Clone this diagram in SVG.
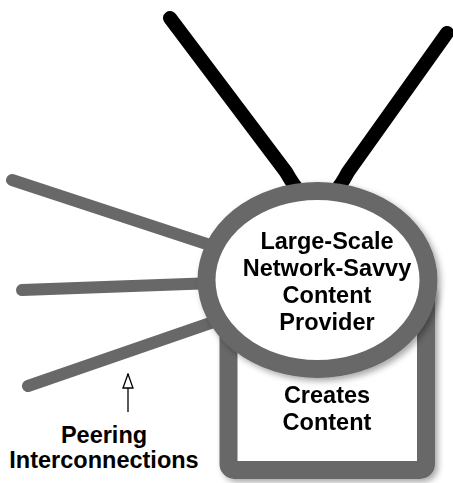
<svg xmlns="http://www.w3.org/2000/svg" width="453" height="483" viewBox="0 0 453 483">
<defs>
<style>
.gray{stroke:#686868;fill:none;stroke-linecap:round}
.node{fill:#fff;stroke:#686868;stroke-width:18}
.lbl{font-family:"Liberation Sans",Arial,sans-serif;font-weight:bold;font-size:23.5px;fill:#000;text-anchor:middle}
</style>
<filter id="sh" x="-10%" y="-10%" width="130%" height="130%">
<feDropShadow dx="3" dy="3" stdDeviation="3" flood-color="#000" flood-opacity="0.35"/>
</filter>
<marker id="open" viewBox="0 0 16 12" refX="15" refY="6" markerWidth="16" markerHeight="12" markerUnits="userSpaceOnUse" orient="auto">
<path d="M1,1 L15,6 L1,11 Z" fill="#fff" stroke="#000" stroke-width="1.3"/>
</marker>
</defs>
<g id="connectors">
<path d="M170,18 L286,172 Q318,230 348,172 L447,33" fill="none" stroke="#000" stroke-width="14" stroke-linecap="round" stroke-linejoin="round"/>
<line class="gray" x1="12" y1="180" x2="225" y2="250" stroke-width="12"/>
<line class="gray" x1="22" y1="290" x2="215" y2="283" stroke-width="12"/>
<line class="gray" x1="28" y1="386" x2="225" y2="318" stroke-width="12"/>
<line x1="128" y1="412" x2="128" y2="374" stroke="#000" stroke-width="1.3" marker-end="url(#open)"/>
</g>
<g id="creates" filter="url(#sh)">
<rect class="node" x="228.5" y="290" width="197.5" height="180" rx="6"/>
<text class="lbl" x="327" y="403">Creates</text>
<text class="lbl" x="327" y="430">Content</text>
</g>
<g id="provider" filter="url(#sh)">
<ellipse class="node" cx="317.5" cy="280" rx="111" ry="89"/>
<text class="lbl" x="327" y="249">Large-Scale</text>
<text class="lbl" x="327" y="276">Network-Savvy</text>
<text class="lbl" x="327" y="303">Content</text>
<text class="lbl" x="327" y="330">Provider</text>
</g>
<g id="peering">
<text class="lbl" x="104" y="443">Peering</text>
<text class="lbl" x="104" y="468">Interconnections</text>
</g>
</svg>
